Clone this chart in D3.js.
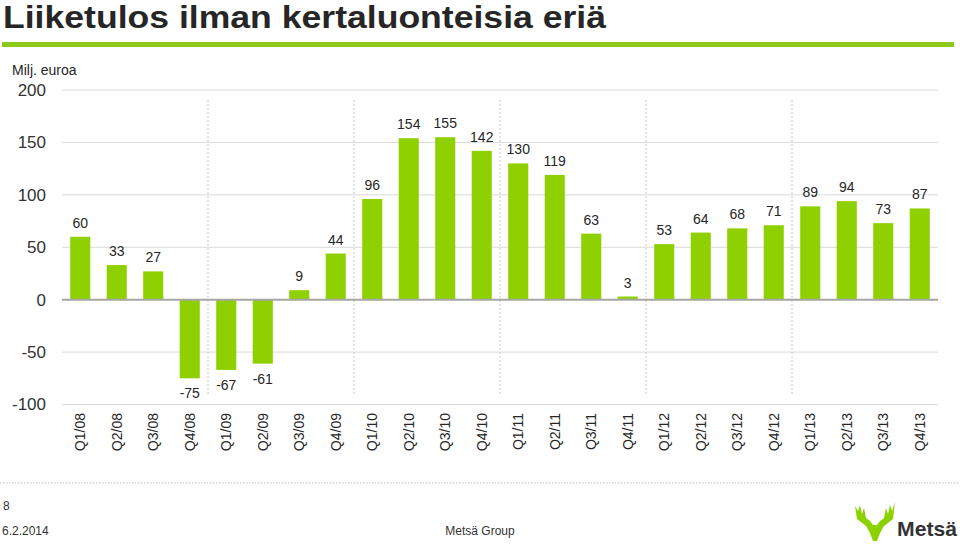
<!DOCTYPE html>
<html><head><meta charset="utf-8">
<script src="https://cdn.jsdelivr.net/npm/d3@7"></script>
<style>html,body{margin:0;padding:0;background:#fff;}svg{display:block;font-family:"Liberation Sans",Arial,sans-serif;}</style>
</head><body>
<svg id="c" width="960" height="546"></svg>
<script>
const categories = ["Q1/08","Q2/08","Q3/08","Q4/08","Q1/09","Q2/09","Q3/09","Q4/09","Q1/10","Q2/10","Q3/10","Q4/10","Q1/11","Q2/11","Q3/11","Q4/11","Q1/12","Q2/12","Q3/12","Q4/12","Q1/13","Q2/13","Q3/13","Q4/13"];
const values = [60,33,27,-75,-67,-61,9,44,96,154,155,142,130,119,63,3,53,64,68,71,89,94,73,87];
const yTicks = [200,150,100,50,0,-50,-100];
const yearStarts = ["Q1/09","Q1/10","Q1/11","Q1/12","Q1/13"];

const svg = d3.select("#c");
const x = d3.scaleBand().domain(categories).range([62,938]).paddingInner(0.45).paddingOuter(0.225);
const y = d3.scaleLinear().domain([-100,200]).range([404.5,90]);

// title
svg.append("text").attr("x",3).attr("y",28).attr("font-size",32).attr("font-weight","bold")
  .attr("fill","#262626").attr("textLength",603).attr("lengthAdjust","spacingAndGlyphs")
  .text("Liiketulos ilman kertaluonteisia eriä");
svg.append("rect").attr("x",2).attr("y",42).attr("width",952).attr("height",5).attr("fill","#8cc919");

// unit
svg.append("text").attr("x",12).attr("y",75).attr("font-size",14).attr("fill","#262626").text("Milj. euroa");

// grid
svg.append("g").selectAll("line").data(yTicks.filter(d=>d!==0)).join("line")
  .attr("x1",62).attr("x2",938).attr("y1",d=>y(d)).attr("y2",d=>y(d))
  .attr("stroke","#d9d9d9").attr("stroke-width",1);

// year separators
const step = x.step();
svg.append("g").selectAll("line").data(yearStarts).join("line")
  .attr("x1",d=>x(d)-x.bandwidth()*0.0 - (step-x.bandwidth())/2).attr("x2",d=>x(d)-(step-x.bandwidth())/2)
  .attr("y1",100).attr("y2",396)
  .attr("stroke","#c8c8c8").attr("stroke-width",1).attr("stroke-dasharray","2,2");

// y labels
svg.append("g").selectAll("text").data(yTicks).join("text")
  .attr("x",46).attr("y",d=>y(d)).attr("dy","0.35em").attr("text-anchor","end")
  .attr("font-size",17).attr("fill","#333").text(d=>d);

// bars
svg.append("g").selectAll("rect").data(values).join("rect")
  .attr("x",(d,i)=>x(categories[i])).attr("width",x.bandwidth())
  .attr("y",d=>y(Math.max(0,d))).attr("height",d=>Math.abs(y(d)-y(0)))
  .attr("fill","#8fd100");

// zero line
svg.append("line").attr("x1",62).attr("x2",938).attr("y1",y(0)).attr("y2",y(0))
  .attr("stroke","#a6a6a6").attr("stroke-width",2);

// value labels
svg.append("g").selectAll("text").data(values).join("text")
  .attr("x",(d,i)=>x(categories[i])+x.bandwidth()/2)
  .attr("y",d=>d>=0 ? y(d)-9 : y(d)+20)
  .attr("text-anchor","middle").attr("font-size",14).attr("fill","#262626").text(d=>d);

// category labels
svg.append("g").selectAll("text").data(categories).join("text")
  .attr("transform",d=>`translate(${x(d)+x.bandwidth()/2+5},413) rotate(-90)`)
  .attr("text-anchor","end").attr("font-size",14).attr("fill","#262626").text(d=>d);

// footer
svg.append("line").attr("x1",0).attr("x2",960).attr("y1",483).attr("y2",483)
  .attr("stroke","#bdbdbd").attr("stroke-width",1).attr("stroke-dasharray","1.5,1.5");
svg.append("text").attr("x",3).attr("y",510).attr("font-size",12).attr("fill","#333").text("8");
svg.append("text").attr("x",2).attr("y",535).attr("font-size",12).attr("fill","#333").text("6.2.2014");
svg.append("text").attr("x",480).attr("y",535).attr("text-anchor","middle").attr("font-size",12).attr("fill","#333").text("Metsä Group");

// logo
const lg = svg.append("g").attr("transform","translate(855,502)");
lg.append("path").attr("fill","#8cd100")
  .attr("d","M0,4 L2,17 L11,24 L15,31 L18,39 L22,39 L25,31 L29,24 L38,17 L40,0 L37,9 L35,3 L33,12 L31,6 L29,16 L25,19 L22,23 L18,23 L15,19 L11,16 L9,6 L7,12 L5,3 L3,9 Z");
svg.append("text").attr("x",897).attr("y",536).attr("font-size",21).attr("font-weight","bold").attr("fill","#333")
  .attr("textLength",60).attr("lengthAdjust","spacingAndGlyphs").text("Metsä");
</script>
</body></html>
